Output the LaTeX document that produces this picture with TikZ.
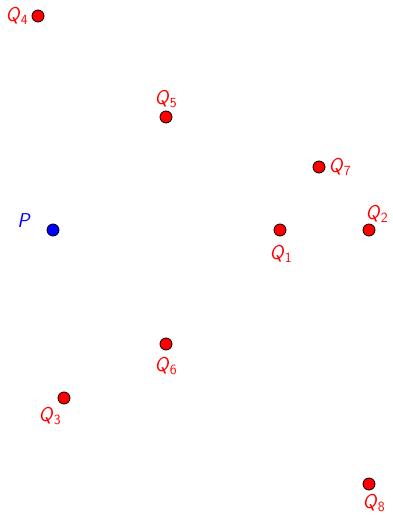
\documentclass[tikz,border=0pt]{standalone}
\tikzset{
  dotq/.style={circle,draw=black,fill=red,inner sep=0pt,minimum size=12pt,line width=0.8pt},
  dotp/.style={circle,draw=black,fill=blue,inner sep=0pt,minimum size=12pt,line width=0.8pt},
  lblq/.style={text=red,font=\fontsize{20}{24}\selectfont\sffamily,inner sep=0pt},
  lblp/.style={text=blue,font=\fontsize{20}{24}\selectfont\sffamily,inner sep=0pt}
}
\newcommand\qlab[1]{\textit{Q}\textsubscript{#1}}
\begin{document}
\begin{tikzpicture}[x=1pt,y=-1pt]
\useasboundingbox (0,0) rectangle (393,516);
\node[dotq] (q4) at (38,16) {};
\node[dotq] (q5) at (166,117) {};
\node[dotq] (q7) at (319,167) {};
\node[dotp] (p) at (53,230) {};
\node[dotq] (q1) at (280,230) {};
\node[dotq] (q2) at (369,230) {};
\node[dotq] (q6) at (166,344) {};
\node[dotq] (q3) at (64,398) {};
\node[dotq] (q8) at (369,484) {};
\node[lblq] (l4) at (17,16) {\qlab{4}};
\node[lblq] (l5) at (166,99) {\qlab{5}};
\node[lblq] (l7) at (340,167) {\qlab{7}};
\node[lblp] (lp) at (24,221) {\textit{P}};
\node[lblq] (l1) at (281,254) {\qlab{1}};
\node[lblq] (l2) at (377,214) {\qlab{2}};
\node[lblq] (l6) at (166,366) {\qlab{6}};
\node[lblq] (l3) at (50,416) {\qlab{3}};
\node[lblq] (l8) at (374,503) {\qlab{8}};
\end{tikzpicture}
\end{document}
